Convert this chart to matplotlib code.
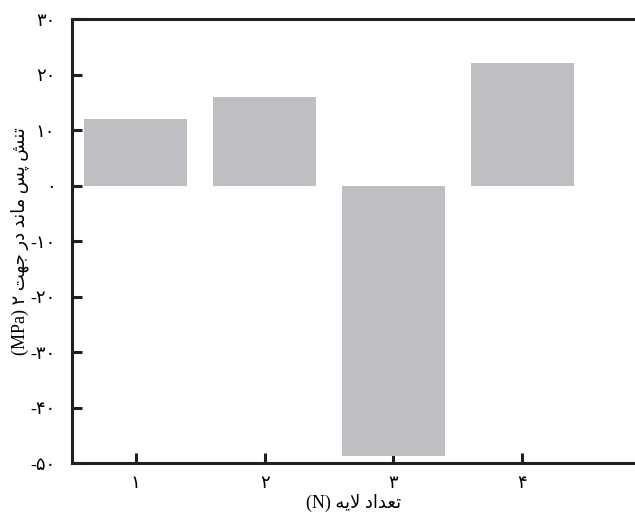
import matplotlib
matplotlib.use("Agg")
import matplotlib.pyplot as plt

# Data
categories = [1, 2, 3, 4]
category_labels = ["\u06F1", "\u06F2", "\u06F3", "\u06F4"]
values = [12.0, 16.0, -48.7, 22.0]
ytick_values = [-50, -40, -30, -20, -10, 0, 10, 20, 30]
ytick_labels = ["-\u06F5\u06F0", "-\u06F4\u06F0", "-\u06F3\u06F0", "-\u06F2\u06F0", "-\u06F1\u06F0",
                "\u06F0", "\u06F1\u06F0", "\u06F2\u06F0", "\u06F3\u06F0"]

# Persian labels, pre-shaped (presentation forms, visual order)
w_tanesh = "\uFEB6\uFEE8\uFE97"
w_pas = "\uFEB2\uFB58"
w_mand = "\uFEAA\uFEE7\uFE8E\uFEE3"
w_dar = "\uFEAD\uFEA9"
w_jahat = "\uFE96\uFEEC\uFE9F"
ylabel = "(MPa) \u06F2 " + w_jahat + " " + w_dar + " " + w_mand + " " + w_pas + " " + w_tanesh
w_tedad = "\uFEA9\uFE8D\uFEAA\uFECC\uFE97"
w_laye = "\uFEEA\uFBFE\uFEFB"
xlabel = "(N) " + w_laye + " " + w_tedad

fam = ["Liberation Serif", "DejaVu Sans"]

fig = plt.figure(figsize=(6.35, 5.16), dpi=100)
ax = fig.add_axes([72/635, 1-463/516, 1-72/635, (463-19)/516])

ax.bar(categories, values, width=0.8, color="#BEBFC2", zorder=2)

ax.set_xlim(0.504, 4.876)
ax.set_ylim(-50, 30)
ax.set_xticks(categories)
ax.set_xticklabels(category_labels, family=fam, fontsize=13)
ax.set_yticks(ytick_values)
ax.set_yticklabels(ytick_labels, family=fam, fontsize=13)

for s in ["left", "top", "bottom"]:
    ax.spines[s].set_linewidth(2.2)
    ax.spines[s].set_color("#231F20")
ax.spines["right"].set_visible(False)
ax.tick_params(axis="both", direction="in", length=7, width=2.2, color="#231F20")
ax.tick_params(axis="y", pad=12)
ax.tick_params(axis="x", pad=9)

ax.set_xlabel(xlabel, family=fam, fontsize=13, labelpad=1)
ax.set_ylabel(ylabel, family=fam, fontsize=13)
ax.yaxis.set_label_coords(-43/563, 0.5)

fig.savefig("out.png", dpi=100)
